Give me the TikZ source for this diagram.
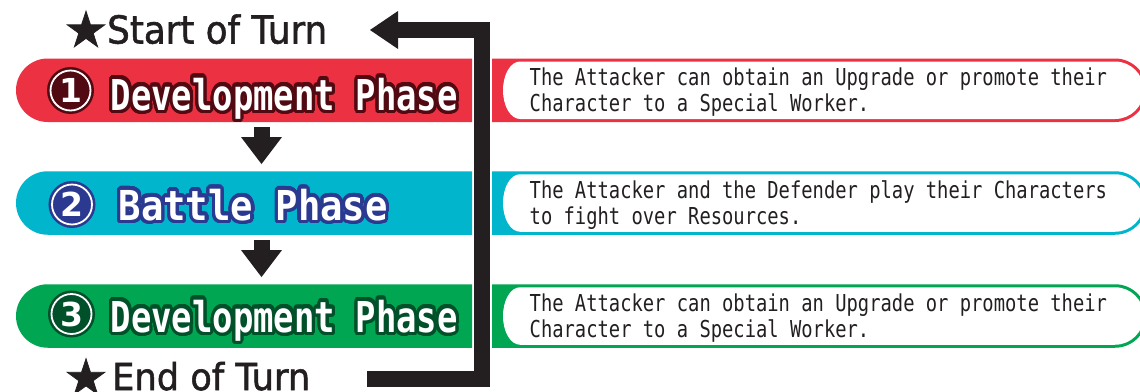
\documentclass[tikz,border=0pt]{standalone}
\usepackage{fontspec}
\usepackage{contour}
\usetikzlibrary{arrows.meta,shapes.misc}
\setmainfont{DejaVu Sans}
\newfontfamily\headfont[FakeBold=1.5]{DejaVu Sans}
\newfontfamily\symfont{DejaVu Sans}
\newfontfamily\phasefont{DejaVu Sans Mono}
\newfontfamily\descfont[FakeStretch=0.807]{DejaVu Sans Mono}
\contourlength{3.5pt}
\contournumber{32}

\definecolor{ink}{HTML}{231F20}
\definecolor{phred}{HTML}{EC3143}
\definecolor{phcyan}{HTML}{00B5CC}
\definecolor{phgreen}{HTML}{00A651}
\definecolor{phreddark}{HTML}{520A12}
\definecolor{phcyandark}{HTML}{2B3990}
\definecolor{phgreendark}{HTML}{00502A}

\begin{document}
\begin{tikzpicture}[x=1pt,y=-1pt,
  band/.style={rounded rectangle, rounded rectangle right arc=none,
    minimum width=456pt, minimum height=63.5pt, inner sep=0pt, draw=none},
  phase/.style={text=white, inner sep=0pt,
    font=\phasefont\bfseries\fontsize{40pt}{40pt}\selectfont},
  numdisc/.style={circle, minimum size=40pt, inner sep=0pt,
    fill=#1, draw=white, line width=1.8pt, text=white,
    preaction={draw=#1, line width=7pt},
    font=\symfont\bfseries\fontsize{33pt}{33pt}\selectfont},
  head/.style={text=ink, inner sep=0pt,
    font=\headfont\fontsize{38pt}{38pt}\selectfont},
  desc/.style={text=ink, inner sep=0pt, anchor=base west,
    font=\descfont\fontsize{23.3pt}{26pt}\selectfont},
  downarrow/.style={draw=ink, line width=16pt,
    -{Triangle[length=27pt,width=41pt,line width=0pt]}},
  loopline/.style={draw=ink, line width=16pt, line join=miter,
    -{Triangle[length=28pt,width=38pt,line width=0pt]}}]

\fill[white] (0,0) rectangle (1140,391);
\useasboundingbox (0,0) rectangle (1140,391);

% coloured phase bands
\node[band, fill=phred]   (band1) at (244,90.25) {};
\node[band, fill=phcyan]  (band2) at (244,203) {};
\node[band, fill=phgreen] (band3) at (244,316) {};

% description boxes: coloured frame with a white pill inside
\foreach \c/\y in {phred/90.25, phcyan/203, phgreen/316} {
  \fill[\c] (492,\y-31.75) -- (1115,\y-31.75)
    arc[start angle=-90, end angle=90, radius=31.75]
    -- (492,\y+31.75) -- cycle;
  \fill[white] (520,\y-28.75) -- (1115,\y-28.75)
    arc[start angle=-90, end angle=90, radius=28.75]
    -- (520,\y+28.75)
    arc[start angle=90, end angle=270, x radius=17, y radius=28.75] -- cycle;
}

% phase numbers
\node[numdisc=phreddark]   (num1) at (70.5,90.5) {1};
\node[numdisc=phcyandark]  (num2) at (72,204.5) {2};
\node[numdisc=phgreendark] (num3) at (71.5,314) {3};

% phase titles
\node[phase, anchor=base west] (lab1) at (110.5,110)
  {\resizebox{347pt}{32.3pt}{\contour{phreddark}{Development Phase}}};
\node[phase, anchor=base west] (lab2) at (118.5,220)
  {\resizebox{269pt}{31.3pt}{\contour{phcyandark}{Battle Phase}}};
\node[phase, anchor=base west] (lab3) at (110.5,332)
  {\resizebox{347pt}{32.3pt}{\contour{phgreendark}{Development Phase}}};

% descriptions
\node[desc] (d1a) at (529.5,85.75) {The Attacker can obtain an Upgrade or promote their};
\node[desc] (d1b) at (529.5,111.75) {Character to a Special Worker.};
\node[desc] (d2a) at (529.5,198.5) {The Attacker and the Defender play their Characters};
\node[desc] (d2b) at (529.5,224.5) {to fight over Resources.};
\node[desc] (d3a) at (529.5,311.5) {The Attacker can obtain an Upgrade or promote their};
\node[desc] (d3b) at (529.5,337.5) {Character to a Special Worker.};

% start and end of turn
\node[head] (startstar) at (86,29) {\resizebox{44pt}{!}{★}};
\node[head, anchor=base west] (startturn) at (107,43.5)
  {\resizebox{220pt}{29.2pt}{Start of Turn}};
\node[head] (endstar) at (86,376.5) {\resizebox{44pt}{!}{★}};
\node[head, anchor=base west] (endturn) at (112,390)
  {\resizebox{198pt}{28.2pt}{End of Turn}};

% flow arrows between phases
\coordinate (ax) at (261.5,0);
\draw[downarrow, shorten <=5pt, shorten >=7pt] (band1.south -| ax) -- (band2.north -| ax);
\draw[downarrow, shorten <=5pt, shorten >=7pt] (band2.south -| ax) -- (band3.north -| ax);

% return loop from end of turn back to start of turn
\coordinate (loopstart) at (367,378.5);
\coordinate (looptip) at (370,30);
\coordinate (barx) at (482,0);
\draw[loopline] (loopstart) -- (loopstart -| barx) -- (looptip -| barx) -- (looptip);
\end{tikzpicture}
\end{document}
